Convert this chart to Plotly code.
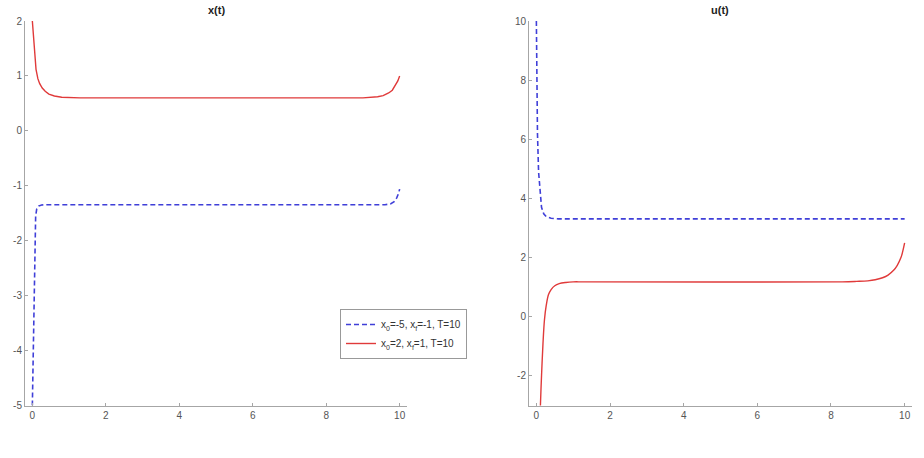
import plotly.graph_objects as go

# ---- data ----
t_x_red = [0, 0.05, 0.1, 0.15, 0.2, 0.27, 0.35, 0.45, 0.6, 0.8, 1.0, 1.3, 9.0, 9.2, 9.4, 9.55, 9.7, 9.8, 9.9, 9.95, 10]
x_red = [2.0, 1.55, 1.12, 0.95, 0.86, 0.78, 0.72, 0.67, 0.635, 0.612, 0.603, 0.6, 0.6, 0.605, 0.62, 0.64, 0.69, 0.74, 0.84, 0.91, 1.0]

t_x_blue = [0, 0.03, 0.05, 0.07, 0.09, 0.12, 0.17, 0.25, 0.4, 9.6, 9.75, 9.85, 9.92, 9.97, 10]
x_blue = [-5.0, -3.6, -2.5, -1.85, -1.55, -1.42, -1.37, -1.35, -1.345, -1.345, -1.33, -1.29, -1.22, -1.14, -1.06]

t_u_blue = [0, 0.01, 0.03, 0.06, 0.1, 0.14, 0.2, 0.27, 0.4, 0.6, 10]
u_blue = [10.0, 8.5, 6.2, 4.9, 4.1, 3.7, 3.48, 3.38, 3.33, 3.31, 3.31]

t_u_red = [0.08, 0.11, 0.14, 0.18, 0.22, 0.27, 0.33, 0.4, 0.5, 0.62, 0.8, 1.0, 1.3, 8.3, 8.7, 9.0, 9.2, 9.4, 9.55, 9.7, 9.8, 9.9, 9.95, 10]
u_red = [-4.5, -3.0, -2.0, -0.9, -0.1, 0.4, 0.75, 0.92, 1.05, 1.12, 1.16, 1.18, 1.18, 1.18, 1.195, 1.215, 1.25, 1.32, 1.41, 1.57, 1.74, 2.0, 2.22, 2.5]

name_blue = "x<sub>0</sub>=-5, x<sub>f</sub>=-1, T=10"
name_red = "x<sub>0</sub>=2, x<sub>f</sub>=1, T=10"
titles = ["<b>x(t)</b>", "<b>u(t)</b>"]
x_ticks = [0, 2, 4, 6, 8, 10]
y_ticks_left = [-5, -4, -3, -2, -1, 0, 1, 2]
y_ticks_right = [-2, 0, 2, 4, 6, 8, 10]

BLUE = "#3f3fd8"
RED = "#e03a3a"

fig = go.Figure()
fig.add_trace(go.Scatter(x=t_x_blue, y=x_blue, mode="lines", name=name_blue,
                         line=dict(color=BLUE, width=1.6, dash="5px,3px"), xaxis="x", yaxis="y"))
fig.add_trace(go.Scatter(x=t_x_red, y=x_red, mode="lines", name=name_red,
                         line=dict(color=RED, width=1.4), xaxis="x", yaxis="y"))
fig.add_trace(go.Scatter(x=t_u_blue, y=u_blue, mode="lines", showlegend=False,
                         line=dict(color=BLUE, width=1.6, dash="5px,3px"), xaxis="x2", yaxis="y2"))
fig.add_trace(go.Scatter(x=t_u_red, y=u_red, mode="lines", showlegend=False,
                         line=dict(color=RED, width=1.4), xaxis="x2", yaxis="y2", line_shape="spline"))

axcommon = dict(showgrid=False, zeroline=False, showline=True, linecolor="#a6a6a6", linewidth=1,
                ticks="inside", ticklen=3, tickcolor="#a6a6a6", automargin=False,
                tickfont=dict(family="Liberation Sans, Arial", size=10, color="#555555"))

def labels(vals):
    return [str(v) for v in vals]

fig.update_layout(
    width=924, height=458,
    margin=dict(l=0, r=0, t=0, b=0),
    paper_bgcolor="white", plot_bgcolor="white",
    xaxis=dict(domain=[25/924, 407/924], range=[-0.2, 10.2], tickvals=x_ticks, ticktext=labels(x_ticks),
               anchor="y", **axcommon),
    yaxis=dict(domain=[1-405.5/458, 1-21/458], range=[-5, 2], tickvals=y_ticks_left,
               ticktext=labels(y_ticks_left), anchor="x", **axcommon),
    xaxis2=dict(domain=[529/924, 912/924], range=[-0.2, 10.2], tickvals=x_ticks, ticktext=labels(x_ticks),
                anchor="y2", **axcommon),
    yaxis2=dict(domain=[1-405.5/458, 1-21/458], range=[-3, 10], tickvals=y_ticks_right,
                ticktext=labels(y_ticks_right), anchor="x2", **axcommon),
    legend=dict(x=467/924, y=1-309/458, xanchor="right", yanchor="top",
                bgcolor="white", bordercolor="#999999", borderwidth=1,
                font=dict(family="Liberation Sans, Arial", size=10, color="#333333"),
                tracegroupgap=0, itemwidth=30),
    showlegend=True,
)

fig.add_annotation(text=titles[0], x=216/924, y=1-10/458, xref="paper", yref="paper",
                   showarrow=False, xanchor="center", yanchor="middle",
                   font=dict(family="Liberation Sans, Arial", size=11, color="#222222"))
fig.add_annotation(text=titles[1], x=720/924, y=1-10/458, xref="paper", yref="paper",
                   showarrow=False, xanchor="center", yanchor="middle",
                   font=dict(family="Liberation Sans, Arial", size=11, color="#222222"))

fig.write_html("out.html")
